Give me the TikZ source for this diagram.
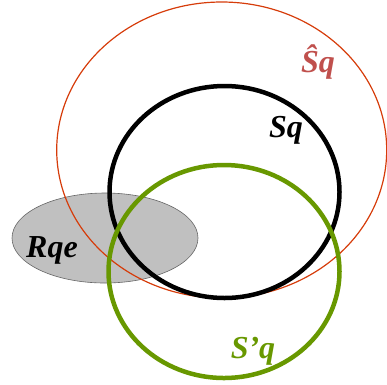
\documentclass[tikz,border=0pt]{standalone}
\usepackage{fontspec}
\setmainfont{Liberation Serif}
\usepackage{tikz}
\usetikzlibrary{arrows}
\definecolor{hatred}{RGB}{192,80,77}
\definecolor{edgered}{RGB}{214,60,10}
\definecolor{sgreen}{RGB}{104,152,0}
\definecolor{rgray}{RGB}{192,192,192}

\begin{document}
\begin{tikzpicture}[x=1pt,y=-1pt,line cap=round,line join=round]
\useasboundingbox (0,0) rectangle (387,384);
\tikzset{lbl/.style={font=\fontsize{32}{36}\selectfont\bfseries\itshape,inner sep=0pt}}
\draw [fill=rgray,draw=black!60,line width=0.6pt] (105,238) ellipse (93 and 45);
\draw [edgered,line width=1.2pt] (221.7,150) ellipse (165 and 148);
\draw [black,line width=4.5pt] (224.5,192) ellipse (115 and 106);
\draw [sgreen,line width=4.5pt] (224,271.5) ellipse (115.5 and 106.5);
\node [lbl,anchor=base] (rqe) at (52,257) {Rqe};
\node [lbl,text=hatred,anchor=base] (shat) at (318,72) {\^{S}q};
\node [lbl,anchor=base] (sq) at (286,137) {Sq};
\node [lbl,text=sgreen,anchor=base] (sprime) at (253,358) {S’q};
\end{tikzpicture}
\end{document}
